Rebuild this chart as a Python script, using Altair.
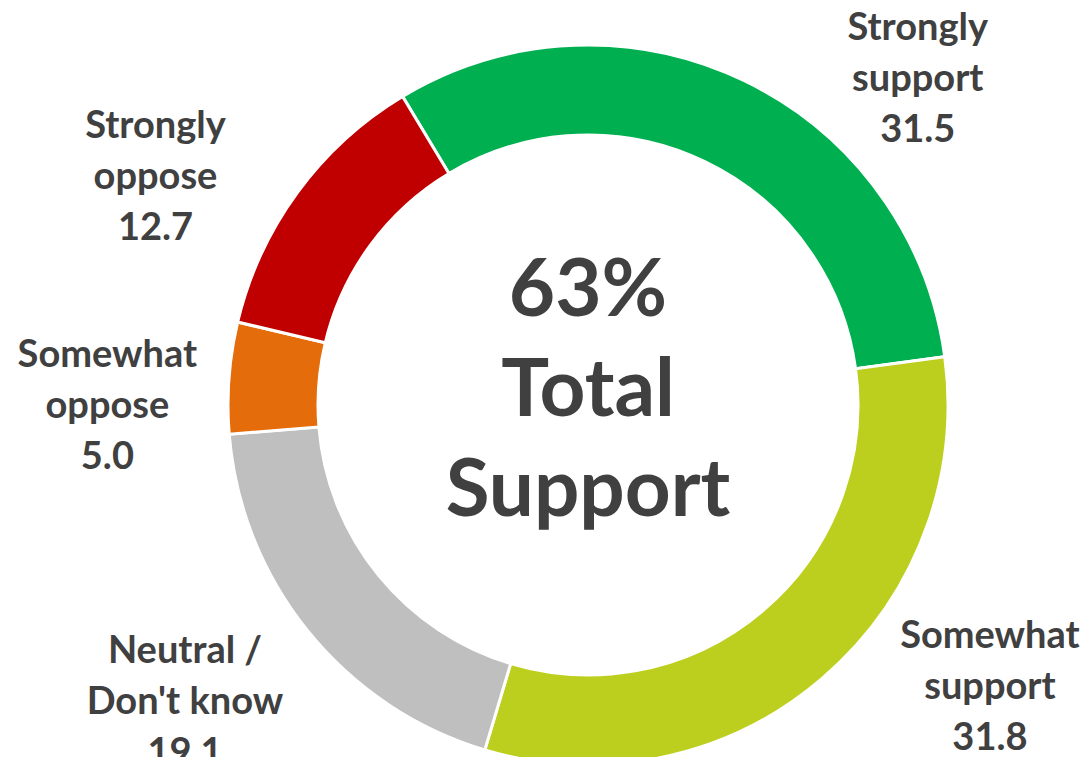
import math
import altair as alt
import pandas as pd

# ---- data ----
categories = ["Strongly support", "Somewhat support", "Neutral / Don't know",
              "Somewhat oppose", "Strongly oppose"]
label_lines = ["Strongly\nsupport", "Somewhat\nsupport", "Neutral /\nDon't know",
               "Somewhat\noppose", "Strongly\noppose"]
values = [31.5, 31.8, 19.1, 5.0, 12.7]
colors = ["#00B050", "#BDCF1E", "#BFBFBF", "#E46C0A", "#C00000"]

total_support = round(values[0] + values[1])
center_text = f"{total_support}%\nTotal\nSupport"

df = pd.DataFrame({
    "idx": list(range(len(categories))),
    "category": categories,
    "value": values,
    "label": [f"{l}\n{v:.1f}" for l, v in zip(label_lines, values)],
})

# ---- layout / style ----
CX, CY = 580, 397
START = math.radians(-31)
TEXT = "#404040"
FONT = "Lato"
LH = 51
# label nudges (dx, dy) from the mid-angle position (first line anchored)
nudges = {
    0: (122, 108 - LH),
    1: (90, -82 - LH),
    2: (-30, -4 - LH),
    3: (-2, 38 - LH),
    4: (-45, 56 - LH),
}

theta_scale = alt.Scale(domain=[0, sum(values)], range=[START, START + 2 * math.pi])
color_scale = alt.Scale(domain=categories, range=colors)

base = alt.Chart(df)

arcs = base.mark_arc(outerRadius=360, innerRadius=270, stroke="white",
                     strokeWidth=3).encode(
    theta=alt.Theta("value:Q", stack=True, scale=theta_scale),
    color=alt.Color("category:N", scale=color_scale, legend=None),
    order=alt.Order("idx:Q"),
    x=alt.value(CX),
    y=alt.value(CY),
)

label_base = base.transform_window(
    cum="sum(value)", sort=[alt.SortField("idx")], frame=[None, 0]
).transform_calculate(mid="datum.cum - datum.value / 2")

layers = [arcs]
for i in range(len(categories)):
    dx, dy = nudges[i]
    layers.append(
        label_base.transform_filter(alt.datum.idx == i).mark_text(
            radius=480, dx=dx, dy=dy, font=FONT, fontSize=38, fontWeight="bold",
            color=TEXT, lineBreak="\n", lineHeight=LH, align="center",
            baseline="middle",
        ).encode(
            theta=alt.Theta("mid:Q", scale=theta_scale),
            text="label:N",
            x=alt.value(CX),
            y=alt.value(CY),
        )
    )

center = alt.Chart(pd.DataFrame({"t": [center_text]})).mark_text(
    font=FONT, fontSize=80, fontWeight="bold", color=TEXT, lineBreak="\n",
    lineHeight=100, align="center", baseline="middle", dy=-113,
).encode(text="t:N", x=alt.value(CX), y=alt.value(CY))
layers.append(center)

chart = alt.layer(*layers).properties(
    width=1074, height=749, padding=0, autosize="none"
).configure_view(stroke=None)

chart.save("out.html", embed_options={"renderer": "svg", "actions": False})
